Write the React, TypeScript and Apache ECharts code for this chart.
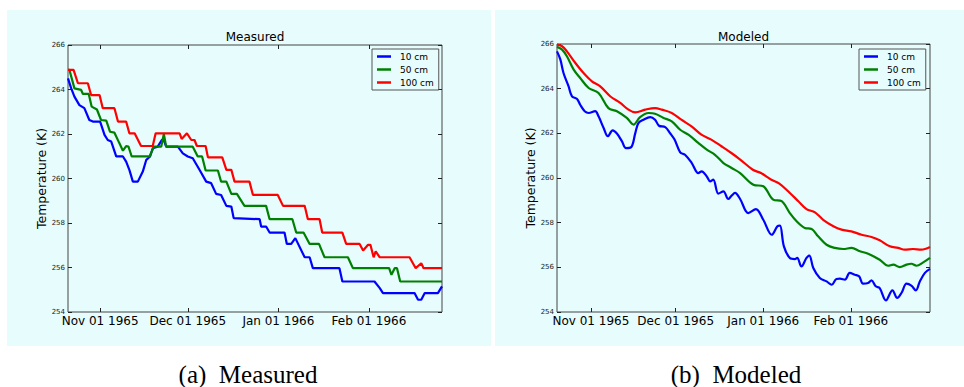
import React, { useEffect, useRef } from "react";
import * as echarts from "echarts";

// x values: days since 1965-11-01 (UTC); y values: temperature in K
const ORIGIN_DATE = "1965-11-01";
const tickDates = ["1965-11-01", "1965-12-01", "1966-01-01", "1966-02-01"];
const tickLabels = ["Nov 01 1965", "Dec 01 1965", "Jan 01 1966", "Feb 01 1966"];
const measuredRange = ["1965-10-21", "1966-02-26"];
const modeledRange = ["1965-10-20", "1966-03-01"];
const depthNames = ["10 cm", "50 cm", "100 cm"];
const depthColors = ["#0000ff", "#008000", "#ff0000"];
const panelTitles = ["Measured", "Modeled"];
const captions = ["(a)\u00a0\u00a0Measured", "(b)\u00a0\u00a0Modeled"];
const yMin = 254;
const yMax = 266;
const yStep = 2;
const yAxisTitle = "Temperature (K)";

const measured10: [number, number][] = [
  [-11, 264.5], [-9.9, 264.05], [-8.8, 263.68], [-7.1, 263.3], [-5.4, 263.16],
  [-3.7, 262.63], [-2.5, 262.56], [0, 262.56], [1.5, 261.96], [2.6, 261.73],
  [3.8, 261.66], [5.5, 260.99], [7.8, 260.99], [8.9, 260.76], [10, 260.39],
  [11.2, 259.86], [12.9, 259.86], [14.6, 260.31], [15.8, 260.84], [17.1, 260.99],
  [18.0, 261.36], [19.7, 261.43], [21.1, 261.73], [21.7, 261.76], [22.6, 261.43],
  [26.6, 261.43], [28.3, 261.13], [30.0, 260.99], [31.7, 260.91], [34.0, 260.39],
  [36.3, 259.86], [38.0, 259.79], [39.7, 259.31], [41.4, 259.26], [43.2, 258.77],
  [44.9, 258.74], [45.7, 258.22], [54.6, 258.17], [55.1, 257.84], [56.8, 257.84],
  [58, 257.57], [63.1, 257.57], [63.9, 257.06], [65.4, 257.06], [66.8, 257.32],
  [70, 256.46], [71.7, 256.46], [72.8, 255.97], [81.9, 255.97], [82.9, 255.37],
  [93.9, 255.37], [95.7, 255.07], [96.8, 254.85], [107.6, 254.85], [108.8, 254.55],
  [109.9, 254.55], [111.1, 254.85], [115.6, 254.85], [117, 255.15],
];

const measured50: [number, number][] = [
  [-11, 264.88], [-10.5, 264.88], [-8.8, 264.05], [-6.5, 263.98], [-5.9, 263.8],
  [-3.9, 263.8], [-2.9, 263.23], [-1.1, 263.1], [0.3, 262.63], [2.1, 262.6],
  [3.4, 262.1], [4.9, 262.06], [6.6, 261.58], [7.8, 261.25], [8.9, 261.46],
  [9.7, 261.43], [10.8, 260.99], [16.9, 260.99], [18.4, 261.43], [20.9, 261.43],
  [21.8, 262.0], [22.6, 261.43], [31.7, 261.43], [33.4, 260.99], [34.9, 260.99],
  [36.1, 260.36], [40.3, 260.36], [41.4, 259.86], [43.2, 259.86], [44.9, 259.31],
  [46.8, 259.31], [49.4, 258.77], [56.8, 258.77], [58, 258.17], [65.8, 258.17],
  [67.1, 257.57], [69.6, 257.57], [71.7, 257.06], [74.9, 257.06], [76.8, 256.46],
  [84.8, 256.46], [86.5, 255.97], [98.9, 255.97], [99.7, 255.67], [100.8, 255.97],
  [101.6, 255.97], [102.7, 255.37], [117, 255.37],
];

const measured100: [number, number][] = [
  [-11, 264.88], [-9.1, 264.88], [-7.6, 264.28], [-4.2, 264.28], [-3.1, 263.75],
  [-0.2, 263.75], [0.9, 263.16], [4.9, 263.16], [6.1, 262.56], [8.9, 262.56],
  [10, 262.03], [11.8, 262.03], [14, 261.46], [18, 261.46], [19, 262.03],
  [27.2, 262.03], [27.9, 261.78], [29.7, 262.03], [31.2, 261.73], [32.3, 261.73],
  [33.1, 261.46], [36.1, 261.46], [36.9, 260.95], [41.8, 260.95], [43.2, 260.39],
  [44.9, 260.39], [46, 259.86], [51.1, 259.86], [52.3, 259.26], [60.8, 259.26],
  [62.6, 258.77], [70, 258.77], [71.1, 258.17], [75.1, 258.17], [76, 257.57],
  [82.9, 257.57], [84.2, 257.06], [88.8, 257.06], [90, 256.76], [91.7, 257.02],
  [92.5, 257.02], [93.6, 256.46], [94.3, 256.72], [95.7, 256.46], [105.9, 256.46],
  [108, 255.97], [109.9, 256.19], [110.7, 255.97], [117, 255.97],
];

const modeled10: [number, number][] = [
  [-12, 265.67], [-10.8, 265.3], [-9.7, 264.7], [-7.9, 264.1], [-6.7, 263.66],
  [-4.9, 263.54], [-3.8, 263.28], [-2.2, 262.99], [-0.8, 262.91], [1.5, 262.99],
  [2.7, 262.76], [4.5, 262.24], [6.0, 261.87], [7.7, 262.13], [9.2, 261.99],
  [11.0, 261.64], [12.4, 261.34], [14.3, 261.39], [15.7, 262.01], [16.8, 262.46],
  [18.6, 262.61], [21.0, 262.73], [22.7, 262.61], [24.1, 262.34], [26.3, 262.28],
  [28.0, 262.01], [29.6, 261.72], [31.6, 261.15], [33.3, 261.04], [35.7, 260.67],
  [38.0, 260.22], [39.2, 260.3], [41.0, 260.07], [42.2, 259.85], [43.3, 259.93],
  [45.1, 259.3], [46.9, 259.4], [48.6, 259.06], [49.8, 259.21], [51.0, 259.33],
  [52.8, 259.06], [55.7, 258.43], [58.4, 258.61], [61.0, 258.13], [64.0, 257.46],
  [66.0, 257.84], [66.9, 257.87], [68.3, 256.94], [70.4, 256.42], [72.2, 256.37],
  [73.0, 256.42], [74.5, 256.04], [76.3, 256.42], [77.3, 256.52], [78.7, 255.97],
  [81.0, 255.52], [83.4, 255.37], [85.2, 255.22], [86.9, 255.48], [88.1, 255.49],
  [89.9, 255.45], [91.6, 255.75], [93.4, 255.67], [94.9, 255.6], [96.3, 255.27],
  [98.1, 255.3], [99.3, 255.42], [100.8, 255.15], [102.2, 255.07], [104.4, 254.52],
  [106.7, 254.97], [108.4, 254.63], [109.9, 254.85], [111.7, 255.27], [113.4, 255.18],
  [115.0, 254.97], [116.4, 255.37], [118.2, 255.75], [120, 255.93],
];

const modeled50: [number, number][] = [
  [-12, 265.87], [-10.2, 265.75], [-8.5, 265.45], [-6.1, 264.85], [-3.8, 264.48],
  [-0.8, 264.03], [2.7, 263.81], [6.2, 263.13], [9.2, 262.99], [12.7, 262.69],
  [15.1, 262.39], [17.4, 262.73], [20.4, 262.91], [22.7, 262.88], [25.7, 262.69],
  [28.6, 262.54], [31.6, 262.16], [34.5, 261.94], [38.0, 261.57], [41.0, 261.27],
  [43.9, 261.04], [46.9, 260.67], [49.8, 260.45], [52.8, 260.22], [57.5, 259.7],
  [61.0, 259.63], [64.5, 259.03], [67.5, 258.96], [70.4, 258.43], [72.8, 258.06],
  [75.7, 257.76], [78.1, 257.72], [80.4, 257.39], [83.4, 257.01], [86.3, 256.87],
  [89.3, 256.82], [92.2, 256.87], [95.2, 256.72], [98.1, 256.61], [102.2, 256.34],
  [105.2, 256.07], [107.0, 256.12], [109.3, 256.01], [111.7, 256.12], [113.4, 256.16],
  [115.2, 256.07], [117.6, 256.22], [120, 256.42],
];

const modeled100: [number, number][] = [
  [-12, 265.97], [-10.2, 265.9], [-8.5, 265.67], [-5.5, 265.15], [-2.6, 264.7],
  [0.35, 264.33], [3.3, 264.1], [6.8, 263.66], [10.4, 263.36], [13.3, 263.06],
  [15.7, 262.94], [19.2, 263.06], [22.7, 263.13], [25.1, 263.06], [28.6, 262.91],
  [32.0, 262.61], [35.6, 262.31], [39.1, 261.94], [42.6, 261.72], [46.2, 261.42],
  [49.7, 261.12], [52.6, 260.85], [57.3, 260.37], [60.2, 260.22], [63.7, 259.93],
  [66.7, 259.75], [70.4, 259.33], [73.4, 258.96], [76.3, 258.61], [79.3, 258.46],
  [82.2, 258.13], [85.8, 257.84], [88.7, 257.69], [92.2, 257.61], [95.8, 257.46],
  [99.3, 257.36], [102.2, 257.21], [105.8, 256.94], [108.7, 256.87], [111.1, 256.79],
  [114.0, 256.82], [116.9, 256.79], [120, 256.91],
];

const measuredSeries = [measured10, measured50, measured100];
const modeledSeries = [modeled10, modeled50, modeled100];

const DAY_MS = 86400000;
const FONT = "DejaVu Sans";

export default function App() {
  const ref = useRef<HTMLDivElement>(null);

  useEffect(() => {
    if (!ref.current) return;
    const chart = echarts.init(ref.current, undefined, { renderer: "svg" });
    const origin = Date.parse(ORIGIN_DATE);
    const tickTs = tickDates.map((d) => Date.parse(d));
    const toPoints = (arr: [number, number][]) =>
      arr.map(([d, k]) => [origin + d * DAY_MS, k]);

    const labelFor = (v: number) => {
      let best = -1;
      let bestDiff = Infinity;
      tickTs.forEach((t, i) => {
        const diff = Math.abs(t - v);
        if (diff < bestDiff) {
          bestDiff = diff;
          best = i;
        }
      });
      return bestDiff < DAY_MS ? tickLabels[best] : "";
    };

    const grids = [
      { left: 68, top: 45, width: 374, height: 267 },
      { left: 557, top: 44, width: 373, height: 268 },
    ];
    const ranges = [measuredRange, modeledRange];

    const xAxes: any[] = [];
    const yAxes: any[] = [];
    [0, 1].forEach((g) => {
      const min = Date.parse(ranges[g][0]);
      const max = Date.parse(ranges[g][1]);
      xAxes.push({
        type: "value",
        gridIndex: g,
        position: "bottom",
        min,
        max,
        axisLine: { show: false },
        splitLine: { show: false },
        axisTick: {
          inside: true,
          length: 4,
          customValues: tickTs,
          lineStyle: { color: "#222", width: 1 },
        },
        axisLabel: {
          customValues: tickTs,
          formatter: (v: number) => labelFor(v),
          fontSize: 12,
          fontFamily: FONT,
          color: "#000",
          margin: 3,
        },
      });
      xAxes.push({
        type: "value",
        gridIndex: g,
        position: "top",
        min,
        max,
        axisLine: { show: false },
        splitLine: { show: false },
        axisTick: {
          inside: true,
          length: 4,
          customValues: tickTs,
          lineStyle: { color: "#222", width: 1 },
        },
        axisLabel: { show: false, customValues: tickTs },
      });
      yAxes.push({
        type: "value",
        gridIndex: g,
        position: "left",
        min: yMin,
        max: yMax,
        interval: yStep,
        axisLine: { show: false },
        splitLine: { show: false },
        axisTick: { inside: true, length: 4, lineStyle: { color: "#222" } },
        axisLabel: { fontSize: 7, fontFamily: FONT, color: "#222", margin: 3 },
        name: yAxisTitle,
        nameLocation: "middle",
        nameGap: 20,
        nameTextStyle: { fontSize: 12.5, fontFamily: FONT, color: "#000" },
      });
      yAxes.push({
        type: "value",
        gridIndex: g,
        position: "right",
        min: yMin,
        max: yMax,
        interval: yStep,
        axisLine: { show: false },
        splitLine: { show: false },
        axisTick: { inside: true, length: 4, lineStyle: { color: "#222" } },
        axisLabel: { show: false },
      });
    });

    const series: any[] = [];
    measuredSeries.forEach((s, i) => {
      series.push({
        name: depthNames[i],
        type: "line",
        xAxisIndex: 0,
        yAxisIndex: 0,
        data: toPoints(s),
        showSymbol: false,
        symbol: "none",
        lineStyle: { width: 2.2, color: depthColors[i] },
        itemStyle: { color: depthColors[i] },
      });
    });
    modeledSeries.forEach((s, i) => {
      series.push({
        name: depthNames[i],
        type: "line",
        xAxisIndex: 2,
        yAxisIndex: 2,
        data: toPoints(s),
        showSymbol: false,
        symbol: "none",
        smooth: 0.35,
        lineStyle: { width: 2.2, color: depthColors[i] },
        itemStyle: { color: depthColors[i] },
      });
    });

    const legendLefts = [372, 859];
    const titleCenters = [255, 743.5];
    const captionCenters = [248, 736];

    chart.setOption({
      animation: false,
      textStyle: { fontFamily: FONT },
      grid: grids.map((g) => ({
        ...g,
        show: true,
        borderColor: "#444",
        borderWidth: 1,
        backgroundColor: "transparent",
      })),
      xAxis: xAxes,
      yAxis: yAxes,
      legend: legendLefts.map((l) => ({
        data: depthNames,
        orient: "vertical",
        left: l,
        top: 49,
        icon: "rect",
        itemWidth: 14,
        itemHeight: 2.5,
        itemGap: 4,
        padding: [3, 5, 3, 5],
        borderColor: "#555",
        borderWidth: 1,
        borderRadius: 0,
        selectedMode: false,
        textStyle: {
          fontSize: 9,
          fontFamily: FONT,
          color: "#000",
          lineHeight: 9,
          padding: [0, 0, 0, 4],
        },
      })),
      graphic: [
        {
          type: "rect",
          z: -10,
          silent: true,
          shape: { x: 7, y: 10, width: 484, height: 336 },
          style: { fill: "#e6fcfd" },
        },
        {
          type: "rect",
          z: -10,
          silent: true,
          shape: { x: 495, y: 10, width: 469, height: 336 },
          style: { fill: "#e6fcfd" },
        },
        ...panelTitles.map((t, i) => ({
          type: "text",
          x: titleCenters[i],
          y: 37,
          style: {
            text: t,
            fontSize: 12,
            fontFamily: FONT,
            fill: "#000",
            textAlign: "center",
            textVerticalAlign: "middle",
          },
        })),
        ...captions.map((t, i) => ({
          type: "text",
          x: captionCenters[i],
          y: 374,
          style: {
            text: t,
            fontSize: 25,
            fontFamily: "Liberation Serif",
            fill: "#000",
            textAlign: "center",
            textVerticalAlign: "middle",
          },
        })),
      ],
      series,
    });

    return () => chart.dispose();
  }, []);

  return (
    <div
      ref={ref}
      style={{
        position: "fixed",
        left: 0,
        top: 0,
        width: 964,
        height: 387,
        background: "#ffffff",
      }}
    />
  );
}
